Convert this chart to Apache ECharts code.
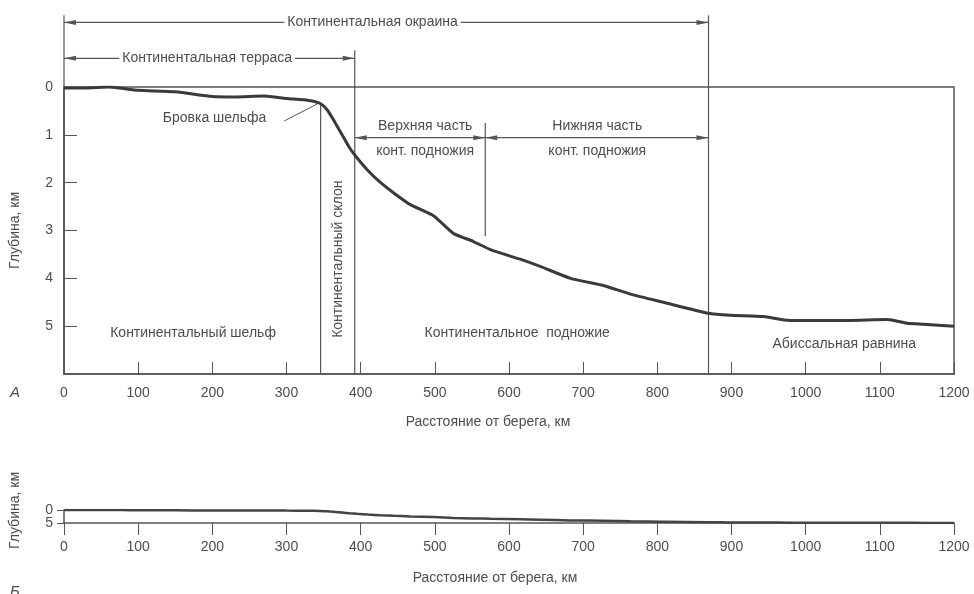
<!DOCTYPE html>
<html><head><meta charset="utf-8">
<script src="https://cdn.jsdelivr.net/npm/echarts/dist/echarts.min.js"></script>
<style>html,body{margin:0;padding:0;background:#fff}#c{width:974px;height:594px}</style>
</head><body><div id="c"></div>
<script>
// ---- data ----
const distanceKm = [0, 30, 60, 80, 100, 150, 200, 230, 270, 300, 330, 345, 355, 365, 375, 385, 395, 410, 427, 445, 467, 499, 525, 552, 575, 615, 642, 683, 727, 764, 808, 869, 898, 943, 979, 1056, 1110, 1137, 1159, 1200];
const depthKm    = [0.02, 0.02, 0.0, 0.03, 0.07, 0.1, 0.2, 0.21, 0.19, 0.24, 0.28, 0.34, 0.48, 0.73, 1.0, 1.27, 1.48, 1.75, 2.0, 2.22, 2.46, 2.7, 3.06, 3.23, 3.4, 3.6, 3.75, 4.0, 4.15, 4.33, 4.5, 4.73, 4.77, 4.8, 4.88, 4.88, 4.86, 4.94, 4.96, 5.0];
const xTickStep = 100;
const depthTickLabels = ['0', '1', '2', '3', '4', '5'];
const smallDepthTicks = [0, 5];
const boundaryShelfBreak = 346;
const boundaryTerrace = 392;
const boundaryUpperRise = 568;
const boundaryMargin = 869;

const TXT = '#4d4d4d', LN = '#555';
const FONT = 'Liberation Sans, Arial, sans-serif';
const profile = distanceKm.map((d, i) => [d, depthKm[i]]);

const chart = echarts.init(document.getElementById('c'), null, {renderer: 'canvas'});
const axisLbl = {color: TXT, fontSize: 14, fontFamily: FONT, formatter: (v) => String(v), showMinLabel: true, showMaxLabel: true, hideOverlap: false};
const option = {
  animation: false,
  backgroundColor: '#fff',
  grid: [
    {left: 63, top: 87, width: 891, height: 287, show: true, borderColor: LN, borderWidth: 1.5, backgroundColor: 'transparent'},
    {left: 63, top: 510, width: 891, height: 13}
  ],
  xAxis: [
    {gridIndex: 0, type: 'value', min: 0, max: 1200, interval: xTickStep,
     axisLine: {onZero: false, lineStyle: {color: LN, width: 1.5}}, axisTick: {inside: true, length: 12, lineStyle: {color: LN}},
     splitLine: {show: false}, axisLabel: Object.assign({}, axisLbl, {margin: 12}),
     name: 'Расстояние от берега, км', nameLocation: 'middle', nameGap: 41,
     nameTextStyle: {color: TXT, fontSize: 14, fontFamily: FONT, padding: [0, 42, 0, 0]}},
    {gridIndex: 1, type: 'value', min: 0, max: 1200, interval: xTickStep,
     axisLine: {onZero: false, lineStyle: {color: LN, width: 1.5}}, axisTick: {length: 12, lineStyle: {color: LN}},
     splitLine: {show: false}, axisLabel: Object.assign({}, axisLbl, {margin: 17}),
     name: 'Расстояние от берега, км', nameLocation: 'middle', nameGap: 48,
     nameTextStyle: {color: TXT, fontSize: 14, fontFamily: FONT, padding: [0, 28, 0, 0]}}
  ],
  yAxis: [
    {gridIndex: 0, type: 'value', inverse: true, min: 0, max: 6, interval: 1,
     axisLine: {onZero: false, lineStyle: {color: LN, width: 1.5}}, axisTick: {inside: true, length: 13, lineStyle: {color: LN}},
     splitLine: {show: false},
     axisLabel: Object.assign({}, axisLbl, {margin: 11, formatter: (v) => depthTickLabels[v] !== undefined ? depthTickLabels[v] : ''}),
     name: 'Глубина, км', nameLocation: 'middle', nameGap: 42, nameRotate: 90,
     nameTextStyle: {color: TXT, fontSize: 14, fontFamily: FONT}},
    {gridIndex: 1, type: 'value', inverse: true, min: 0, max: 5, interval: 5,
     axisLine: {onZero: false, lineStyle: {color: LN, width: 1.5}}, axisTick: {length: 7, lineStyle: {color: LN}},
     splitLine: {show: false},
     axisLabel: {show: false},
     name: 'Глубина, км', nameLocation: 'middle', nameGap: 42, nameRotate: 90,
     nameTextStyle: {color: TXT, fontSize: 14, fontFamily: FONT, padding: [0, 0, 0, 12]}}
  ],
  series: [
    {type: 'line', xAxisIndex: 0, yAxisIndex: 0, data: profile, symbol: 'none', smooth: 0.2,
     lineStyle: {color: '#3a3a3a', width: 3}},
    {type: 'line', xAxisIndex: 1, yAxisIndex: 1, data: profile, symbol: 'none', smooth: 0.2,
     lineStyle: {color: '#444', width: 2.5}}
  ]
};
chart.setOption(option);

// ---- annotations placed through the axes' scales ----
const P = (x, y) => chart.convertToPixel({gridIndex: 0}, [x, y]);
const P2 = (x, y) => chart.convertToPixel({gridIndex: 1}, [x, y]);
const g = [];
function vline(x, y1, y2) { const a = P(x, y1), b = P(x, y2); g.push({type: 'line', silent: true, shape: {x1: a[0], y1: a[1], x2: b[0], y2: b[1]}, style: {stroke: LN, lineWidth: 1.2}}); }
function span(x1, x2, y) {
  const a = P(x1, y), b = P(x2, y);
  g.push({type: 'line', silent: true, shape: {x1: a[0], y1: a[1], x2: b[0], y2: b[1]}, style: {stroke: LN, lineWidth: 1.2}});
  g.push({type: 'polygon', silent: true, shape: {points: [[a[0], a[1]], [a[0] + 12, a[1] - 2.5], [a[0] + 12, a[1] + 2.5]]}, style: {fill: LN}});
  g.push({type: 'polygon', silent: true, shape: {points: [[b[0], b[1]], [b[0] - 12, b[1] - 2.5], [b[0] - 12, b[1] + 2.5]]}, style: {fill: LN}});
}
function text(str, x, y, opts) {
  const p = P(x, y);
  const o = Object.assign({type: 'text', silent: true, x: p[0], y: p[1], z: 10}, opts || {});
  o.style = Object.assign({text: str, fill: TXT, font: '14px ' + FONT, align: 'center', verticalAlign: 'middle'}, (opts && opts.style) || {});
  g.push(o);
}
// lower panel depth labels (too close for the axis' own overlap handling)
smallDepthTicks.forEach((v) => {
  const p = P2(0, v);
  g.push({type: 'text', silent: true, x: p[0] - 11, y: p[1], style: {text: String(v), fill: TXT, font: '14px ' + FONT, align: 'right', verticalAlign: 'middle'}});
});
// vertical boundaries
vline(0, -1.5, 0);
vline(boundaryMargin, -1.5, 6);
vline(boundaryTerrace, -0.77, 6);
vline(boundaryShelfBreak, 0.35, 6);
vline(boundaryUpperRise, 0.75, 3.12);
// spans
span(0, boundaryMargin, -1.35);
span(0, boundaryTerrace, -0.6);
span(boundaryTerrace, boundaryUpperRise, 1.06);
span(boundaryUpperRise, boundaryMargin, 1.06);
text('Континентальная окраина', 416, -1.35, {style: {backgroundColor: '#fff', padding: [0, 3]}});
text('Континентальная терраса', 193, -0.6, {style: {backgroundColor: '#fff', padding: [0, 3]}});
text('Верхняя часть', 487, 0.81);
text('конт. подножия', 487, 1.35);
text('Нижняя часть', 719, 0.81);
text('конт. подножия', 719, 1.35);
text('Бровка шельфа', 203, 0.65);
{ const a = P(297, 0.71), b = P(342, 0.35); g.push({type: 'line', silent: true, shape: {x1: a[0], y1: a[1], x2: b[0], y2: b[1]}, style: {stroke: LN, lineWidth: 1}}); }
text('Континентальный шельф', 174, 5.15);
text('Континентальное  подножие', 611, 5.15);
text('Абиссальная равнина', 1052, 5.37);
text('Континентальный склон', 369, 3.6, {rotation: Math.PI / 2});
g.push({type: 'text', silent: true, x: 15, y: 393, style: {text: 'А', fill: TXT, font: 'italic 15px ' + FONT, align: 'center', verticalAlign: 'middle'}});
g.push({type: 'text', silent: true, x: 15, y: 592, style: {text: 'Б', fill: TXT, font: 'italic 15px ' + FONT, align: 'center', verticalAlign: 'middle'}});
chart.setOption({graphic: g});
</script>
</body></html>
